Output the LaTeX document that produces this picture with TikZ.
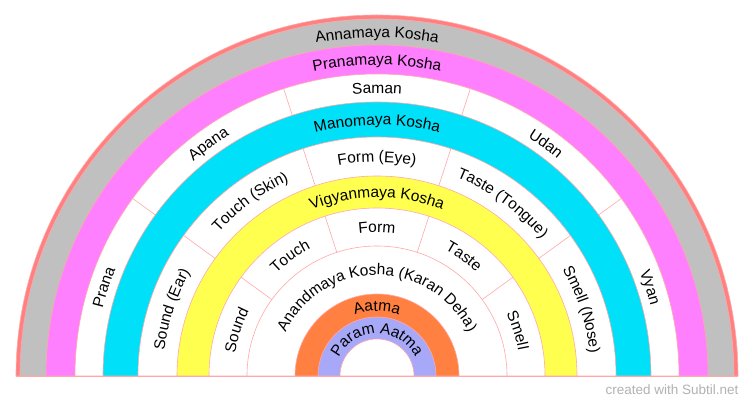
\documentclass[tikz,border=0pt]{standalone}
\usepackage{fontspec}
\usetikzlibrary{decorations.text}
\newfontfamily\lblfam{Liberation Sans}
\newcommand\lbl{\lblfam\fontsize{15.5}{16}\selectfont}
\definecolor{edgec}{HTML}{FFA8A8}
\definecolor{outc}{HTML}{FF8080}
\definecolor{grayc}{HTML}{C0C0C0}
\definecolor{magc}{HTML}{FF80FF}
\definecolor{cyanc}{HTML}{00E0F8}
\definecolor{yelc}{HTML}{FFFF50}
\definecolor{orc}{HTML}{FF8040}
\definecolor{purc}{HTML}{A8A8F8}
\newcommand\band[2]{\fill[#2,draw=edgec,line width=0.6pt] (-#1pt,0) arc[start angle=180,end angle=0,radius=#1pt] -- cycle;}
\newcommand\ctext[4]{\path[decorate,decoration={text along path,text align=center,text={|\lbl|#4}}] (#2:#1pt) arc[start angle=#2,end angle=#3,radius=#1pt];}
\newcommand\divs[2]{\foreach \a in {36,72,108,144}{\draw[edgec,line width=0.6pt] (\a:#1pt) -- (\a:#2pt);}}
\begin{document}
\begin{tikzpicture}
\useasboundingbox (-377pt,-31pt) rectangle (377pt,376pt);
\fill[white] (-377pt,-31pt) rectangle (377pt,376pt);
\band{361}{outc}
\band{357}{grayc}
\band{331}{magc}
\band{302}{white}
\band{274}{cyanc}
\band{239}{white}
\band{200}{yelc}
\band{168}{white}
\draw[edgec,line width=0.6pt] (-130pt,0) arc[start angle=180,end angle=0,radius=130pt];
\band{82}{orc}
\band{59}{purc}
\band{37}{white}
\draw[edgec,line width=0.8pt] (-361pt,0) -- (361pt,0);
\divs{274}{302}
\divs{200}{239}
\divs{130}{168}
\ctext{338.5}{150}{30}{Annamaya Kosha}
\ctext{311}{150}{30}{Pranamaya Kosha}
\ctext{282.5}{180}{144}{Prana}
\ctext{282.5}{144}{108}{Apana}
\ctext{282.5}{108}{72}{Saman}
\ctext{282.5}{72}{36}{Udan}
\ctext{282.5}{36}{0}{Vyan}
\ctext{251}{150}{30}{Manomaya Kosha}
\ctext{214}{180}{144}{Sound (Ear)}
\ctext{214}{144}{108}{Touch (Skin)}
\ctext{214}{108}{72}{Form (Eye)}
\ctext{214}{72}{36}{Taste (Tongue)}
\ctext{214}{36}{0}{Smell (Nose)}
\ctext{178.5}{150}{30}{Vigyanmaya Kosha}
\ctext{143.5}{180}{144}{Sound}
\ctext{143.5}{144}{108}{Touch}
\ctext{143.5}{108}{72}{Form}
\ctext{143.5}{72}{36}{Taste}
\ctext{143.5}{36}{0}{Smell}
\ctext{101}{178}{2}{Anandmaya Kosha (Karan Deha)}
\ctext{65}{170}{10}{Aatma}
\ctext{42.5}{179}{1}{Param Aatma}
\node[anchor=east,text=gray!60,font=\lblfam\fontsize{13.5}{14}\selectfont] (credit) at (365pt,-14pt) {created with Subtil.net};
\end{tikzpicture}
\end{document}
